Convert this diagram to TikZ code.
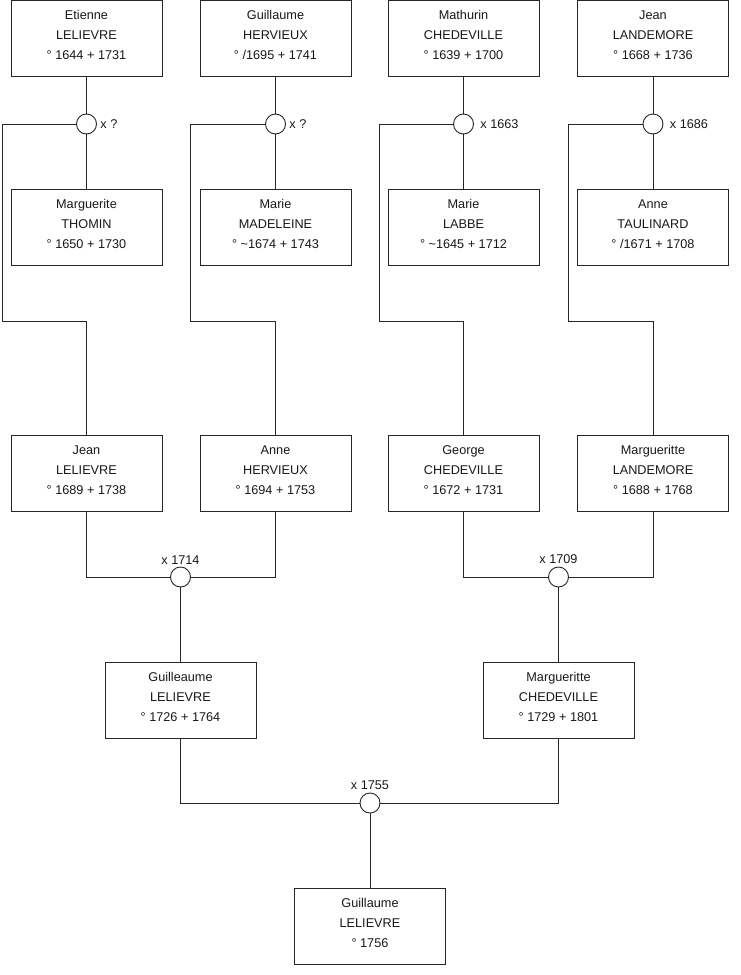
\documentclass[tikz,border=0pt]{standalone}
\usepackage{fontspec}
\setmainfont{Liberation Sans}
\usetikzlibrary{calc}
\newcommand\perstext[3]{\rule{0pt}{10pt}#1\\#2\\#3\rule[-7pt]{0pt}{7pt}}
\begin{document}
\begin{tikzpicture}[x=1pt,y=-1pt,
  line width=0.9pt, draw=black!85,
  every node/.style={font=\fontsize{12.7}{20}\selectfont, text=black!90},
  person/.style={draw=black!85, fill=white, minimum width=151pt, minimum height=76pt, align=center, inner sep=0pt},
  union/.style={circle, draw=black!85, fill=white, minimum size=20pt, inner sep=0pt},
  rlabel/.style={anchor=west, inner sep=0pt},
  tlabel/.style={anchor=south, inner sep=2pt},
  link/.style={draw=black!85, line width=0.9pt}]
\useasboundingbox (0,0) rectangle (740,975);

% generation 1
\node[person] (p1) at (86.5,38) {\perstext{Etienne}{LELIEVRE}{° 1644 + 1731}};
\node[person] (p2) at (275.5,38) {\perstext{Guillaume}{HERVIEUX}{° /1695 + 1741}};
\node[person] (p3) at (463.5,38) {\perstext{Mathurin}{CHEDEVILLE}{° 1639 + 1700}};
\node[person] (p4) at (653,38) {\perstext{Jean}{LANDEMORE}{° 1668 + 1736}};

\node[person] (s1) at (86.5,227) {\perstext{Marguerite}{THOMIN}{° 1650 + 1730}};
\node[person] (s2) at (275.5,227) {\perstext{Marie}{MADELEINE}{° \textasciitilde1674 + 1743}};
\node[person] (s3) at (463.5,227) {\perstext{Marie}{LABBE}{° \textasciitilde1645 + 1712}};
\node[person] (s4) at (653,227) {\perstext{Anne}{TAULINARD}{° /1671 + 1708}};

% generation 2
\node[person] (c1) at (86.5,473) {\perstext{Jean}{LELIEVRE}{° 1689 + 1738}};
\node[person] (c2) at (275.5,473) {\perstext{Anne}{HERVIEUX}{° 1694 + 1753}};
\node[person] (c3) at (463.5,473) {\perstext{George}{CHEDEVILLE}{° 1672 + 1731}};
\node[person] (c4) at (653,473) {\perstext{Margueritte}{LANDEMORE}{° 1688 + 1768}};

% generation 3
\node[person] (g1) at (180.5,700) {\perstext{Guilleaume}{LELIEVRE}{° 1726 + 1764}};
\node[person] (g2) at (558.5,700) {\perstext{Margueritte}{CHEDEVILLE}{° 1729 + 1801}};

% generation 4
\node[person] (f) at (370,926) {\perstext{Guillaume}{LELIEVRE}{° 1756}};

% unions
\node[union] (u1) at (86.5,124) {};
\node[union] (u2) at (275.5,124) {};
\node[union] (u3) at (463.5,124) {};
\node[union] (u4) at (653,124) {};
\node[union] (u5) at (180.5,577) {};
\node[union] (u6) at (558.5,577) {};
\node[union] (u7) at (370,803) {};

% union labels
\node[rlabel] (l1) at ($(u1.east)+(3,0)$) {x ?};
\node[rlabel] (l2) at ($(u2.east)+(3,0)$) {x ?};
\node[rlabel] (l3) at ($(u3.east)+(6,0)$) {x 1663};
\node[rlabel] (l4) at ($(u4.east)+(6,0)$) {x 1686};
\node[tlabel] (l5) at (u5.north) {x 1714};
\node[tlabel] (l6) at (u6.north) {x 1709};
\node[tlabel] (l7) at (u7.north) {x 1755};

% bend points
\coordinate (k1) at (2,321);
\coordinate (k2) at (190,321);
\coordinate (k3) at (379,321);
\coordinate (k4) at (568,321);

% couples of generation 1
\draw[link] (p1) -- (u1) -- (s1);
\draw[link] (p2) -- (u2) -- (s2);
\draw[link] (p3) -- (u3) -- (s3);
\draw[link] (p4) -- (u4) -- (s4);

% descent to generation 2
\draw[link] (u1.west) -| (k1) -| (c1.north);
\draw[link] (u2.west) -| (k2) -| (c2.north);
\draw[link] (u3.west) -| (k3) -| (c3.north);
\draw[link] (u4.west) -| (k4) -| (c4.north);

% couples of generation 2
\draw[link] (c1.south) |- (u5.west);
\draw[link] (c2.south) |- (u5.east);
\draw[link] (u5) -- (g1);
\draw[link] (c3.south) |- (u6.west);
\draw[link] (c4.south) |- (u6.east);
\draw[link] (u6) -- (g2);

% couple of generation 3
\draw[link] (g1.south) |- (u7.west);
\draw[link] (g2.south) |- (u7.east);
\draw[link] (u7) -- (f);
\end{tikzpicture}
\end{document}
